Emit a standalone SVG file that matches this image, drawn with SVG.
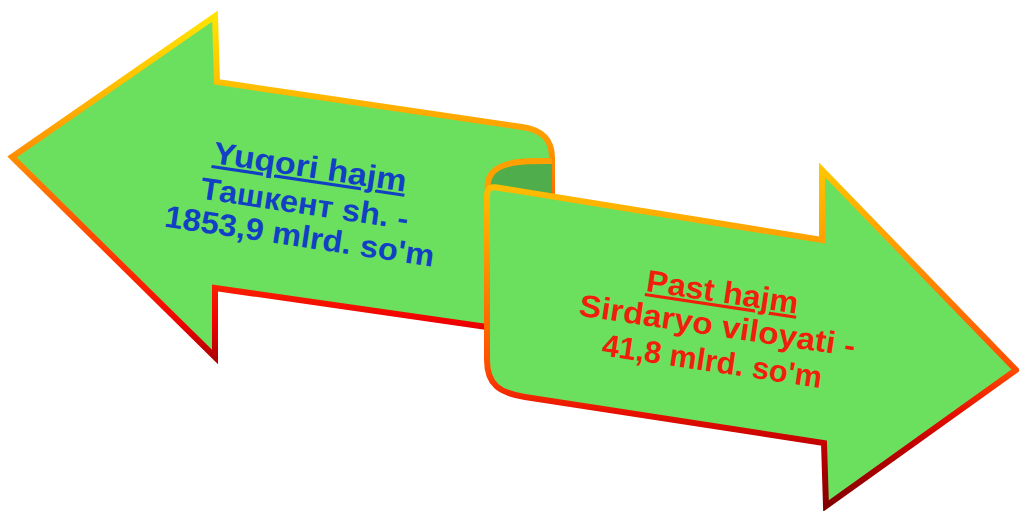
<svg xmlns="http://www.w3.org/2000/svg" width="1019" height="511" viewBox="0 0 1019 511">
<defs>
<linearGradient id="gL" x1="0" y1="15" x2="0" y2="358" gradientUnits="userSpaceOnUse">
<stop offset="0" stop-color="#ffe400"/>
<stop offset="0.2" stop-color="#ffc000"/>
<stop offset="0.42" stop-color="#ff8c00"/>
<stop offset="0.75" stop-color="#ff2a00"/>
<stop offset="0.9" stop-color="#ee0000"/>
<stop offset="1" stop-color="#b00000"/>
</linearGradient>
<linearGradient id="gR" x1="0" y1="165" x2="0" y2="508" gradientUnits="userSpaceOnUse">
<stop offset="0" stop-color="#ffc800"/>
<stop offset="0.22" stop-color="#ffa000"/>
<stop offset="0.6" stop-color="#ff4a00"/>
<stop offset="0.72" stop-color="#e81000"/>
<stop offset="0.82" stop-color="#c00000"/>
<stop offset="1" stop-color="#800000"/>
</linearGradient>
<style>
.face{fill:#6be05f;stroke-width:6;stroke-linejoin:miter}
.t{font-family:"Liberation Sans",Arial,sans-serif;font-weight:bold;text-anchor:middle;font-size:31px}
.blue{fill:#1240c4}
.red{fill:#f01e0c}
</style>
</defs>
<g id="left-arrow">
<path class="face" stroke="url(#gL)" d="M215,16 L217,82 L522,127 C543,130 552,140 552,158 L552,205 L500,330 L487,327 L215,288 L215,357 L12,157 Z"/>
</g>
<g id="curl">
<path d="M552,161 C530,161 505,160 493,172 C487,178 487,185 488,192 L552,200 Z" fill="#4fae4b"/>
<path d="M552,161 C530,161 505,160 493,172 C487,178 487,185 488,192" fill="none" stroke="#ffa000" stroke-width="6"/>
</g>
<g id="right-arrow">
<path class="face" stroke="url(#gR)" d="M487,196 C487,188 491,186 500,188 L822,240 L822,170 L1016,370 L826,506 L824,443 L525,397 C500,393 487,385 487,360 Z"/>
</g>
<g id="left-text" transform="translate(303,214) rotate(8.5)">
<text class="t blue" x="0" y="-37" text-decoration="underline" textLength="195" lengthAdjust="spacingAndGlyphs">Yuqori  hajm</text>
<text class="t blue" x="0" y="0" textLength="210" lengthAdjust="spacingAndGlyphs">Ташкент sh. -</text>
<text class="t blue" x="0" y="33" textLength="272" lengthAdjust="spacingAndGlyphs">1853,9 mlrd. so'm</text>
</g>
<g id="right-text" transform="translate(716,336) rotate(8.5)">
<text class="t red" x="0" y="-34" text-decoration="underline" textLength="153" lengthAdjust="spacingAndGlyphs">Past hajm</text>
<text class="t red" x="0" y="0" textLength="279" lengthAdjust="spacingAndGlyphs">Sirdaryo viloyati  -</text>
<text class="t red" x="0" y="36" textLength="222" lengthAdjust="spacingAndGlyphs">41,8 mlrd. so'm</text>
</g>
</svg>
